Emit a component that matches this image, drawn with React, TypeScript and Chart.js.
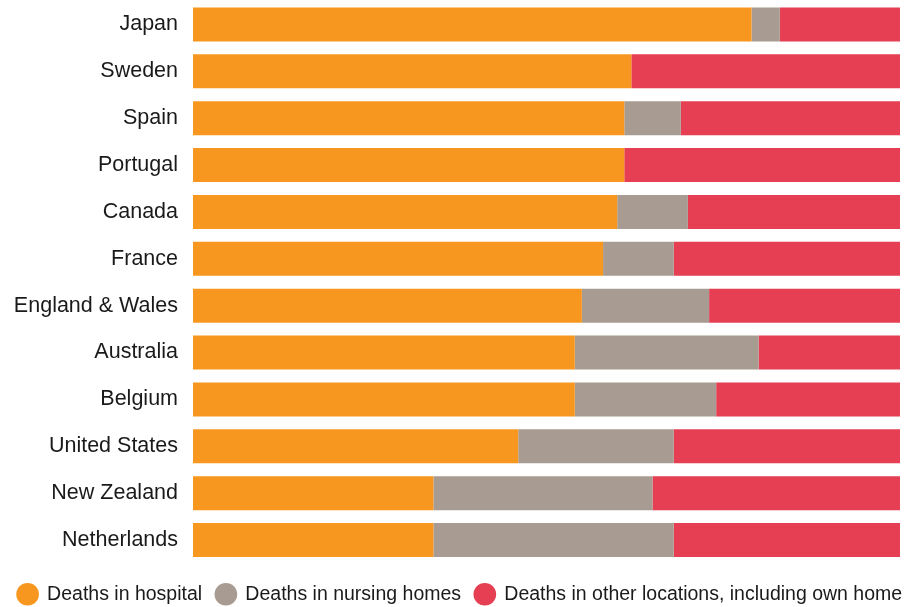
import React, { useEffect, useRef } from "react";
import { Chart, registerables } from "chart.js";

Chart.register(...registerables);

const countries = [
  "Japan",
  "Sweden",
  "Spain",
  "Portugal",
  "Canada",
  "France",
  "England & Wales",
  "Australia",
  "Belgium",
  "United States",
  "New Zealand",
  "Netherlands",
];

const hospital = [79, 62, 61, 61, 60, 58, 55, 54, 54, 46, 34, 34];
const nursingHomes = [4, 0, 8, 0, 10, 10, 18, 26, 20, 22, 31, 34];
const otherLocations = [17, 38, 31, 39, 30, 32, 27, 20, 26, 32, 35, 32];

const seriesNames = [
  "Deaths in hospital",
  "Deaths in nursing homes",
  "Deaths in other locations, including own home",
];

const FONT = "'Liberation Sans', Arial, Helvetica, sans-serif";

export default function App() {
  const ref = useRef<HTMLCanvasElement | null>(null);

  useEffect(() => {
    document.body.style.margin = "0";
    const canvas = ref.current;
    if (!canvas) return;
    const chart = new Chart(canvas, {
      type: "bar",
      data: {
        labels: countries,
        datasets: [
          { label: seriesNames[0], data: hospital, backgroundColor: "#F7971F" },
          { label: seriesNames[1], data: nursingHomes, backgroundColor: "#A89B91" },
          { label: seriesNames[2], data: otherLocations, backgroundColor: "#E63E52" },
        ],
      },
      options: {
        indexAxis: "y",
        animation: false,
        responsive: false,
        maintainAspectRatio: false,
        layout: { padding: { top: 1, right: 0, bottom: -7, left: 0 } },
        datasets: {
          bar: { barPercentage: 0.725, categoryPercentage: 1, borderWidth: 0 },
        },
        scales: {
          x: {
            stacked: true,
            min: 0,
            max: 100,
            display: false,
          },
          y: {
            stacked: true,
            grid: { display: false, drawTicks: true, tickLength: 15 },
            border: { display: false },
            ticks: {
              color: "#1a1a1a",
              font: { family: FONT, size: 21.5 },
              padding: 0,
            },
            afterFit: (scale: any) => {
              scale.width = 193;
              scale.paddingTop = 0;
              scale.paddingBottom = 0;
            },
          },
          yRight: {
            type: "category",
            position: "right",
            display: true,
            grid: { display: false, drawTicks: false },
            border: { display: false },
            ticks: { display: false },
            afterFit: (scale: any) => {
              scale.width = 20;
              scale.paddingTop = 0;
              scale.paddingBottom = 0;
            },
          },
        },
        plugins: {
          tooltip: { enabled: false },
          legend: {
            position: "bottom",
            title: {
              display: true,
              text: "",
              font: { size: 1, lineHeight: 1 },
              padding: { top: 4, bottom: 2 },
            },
            labels: {
              usePointStyle: true,
              pointStyle: "circle",
              boxHeight: 16,
              color: "#1a1a1a",
              font: { family: FONT, size: 19.5 },
              padding: 14,
            },
          },
        },
      },
    });
    return () => chart.destroy();
  }, []);

  return <canvas ref={ref} width={920} height={607} style={{ display: "block" }} />;
}
